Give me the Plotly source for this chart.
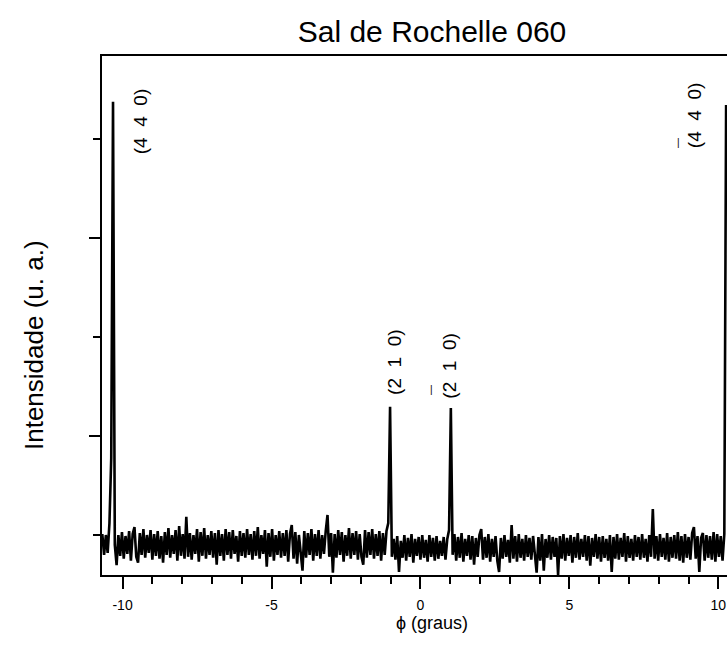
import numpy as np
import plotly.graph_objects as go

# Scan sampling (degrees)
phi_start = -10.68
phi_step = 0.06

# Intensity (arbitrary units)
intensity = [
    505, 400, 500, 410, 560, 889, 2688, 450, 348, 500,
    395, 515, 380, 495, 405, 520, 370, 505, 540, 390,
    360, 510, 400, 530, 385, 500, 410, 525, 375, 505,
    395, 520, 380, 495, 360, 515, 400, 535, 385, 500,
    405, 525, 370, 545, 395, 505, 380, 592, 390, 510,
    375, 500, 405, 530, 365, 515, 395, 535, 380, 500,
    400, 520, 385, 510, 350, 525, 395, 505, 370, 530,
    400, 515, 380, 525, 405, 495, 365, 520, 395, 510,
    385, 530, 400, 505, 375, 520, 395, 540, 380, 500,
    405, 525, 340, 510, 390, 530, 370, 500, 400, 520,
    385, 510, 395, 525, 365, 505, 550, 380, 515, 355,
    500, 395, 320, 520, 385, 510, 400, 530, 370, 505,
    395, 525, 380, 500, 405, 520, 601, 390, 510, 310,
    505, 385, 525, 400, 515, 365, 500, 395, 535, 380,
    510, 400, 520, 375, 505, 390, 350, 525, 385, 515,
    400, 530, 380, 505, 395, 520, 370, 510, 400, 520,
    560, 1148, 390, 480, 375, 495, 313, 470, 385, 500,
    370, 485, 390, 505, 360, 480, 395, 490, 375, 500,
    385, 475, 365, 500, 390, 485, 370, 495, 380, 470,
    395, 490, 375, 480, 525, 1141, 400, 505, 370, 490,
    385, 510, 365, 480, 395, 500, 375, 495, 350, 485,
    390, 500, 530, 375, 490, 385, 505, 365, 480, 390,
    495, 370, 313, 485, 380, 500, 390, 475, 360, 550,
    380, 495, 365, 505, 385, 480, 370, 500, 390, 485,
    375, 495, 385, 310, 490, 370, 505, 320, 480, 385,
    500, 375, 490, 390, 485, 298, 495, 380, 505, 370,
    485, 395, 500, 360, 490, 385, 510, 375, 480, 390,
    500, 370, 495, 345, 485, 390, 505, 380, 490, 365,
    495, 385, 480, 370, 500, 313, 490, 380, 505, 375,
    485, 390, 510, 365, 495, 385, 480, 370, 500, 390,
    490, 375, 505, 385, 480, 365, 500, 390, 631, 380,
    495, 370, 505, 390, 485, 375, 510, 365, 490, 385,
    500, 380, 515, 370, 495, 360, 505, 385, 490, 375,
    510, 540, 380, 495, 313, 485, 510, 370, 500, 385,
    495, 375, 515, 365, 505, 390, 495, 370, 505, 2671,
]

x_tick_vals = [-10, -5, 0, 5, 10]
x_tick_text = ["-10", "-5", "0", "5", "10"]

# Peak labels: text, phi, intensity
peak_labels = ["(4\u20074\u20070)", "(2\u20071\u20070)", "(2\u20071\u20070)", "(4\u20074\u20070)"]
peak_label_phi = [-9.41, -0.85, 0.99, 9.18]
peak_label_int = [2590, 1375, 1355, 2620]
# overbars (for the negative indices) drawn as short vertical strokes
bar_phi = [0.36, 8.65]
bar_int = [1237, 2480]

phi = phi_start + phi_step * np.arange(len(intensity))

FONT = "Liberation Sans, Arial, Helvetica, sans-serif"

# plot-area geometry in pixels (used to place free text)
PL, PR, PT, PB = 102, 727, 56, 575


def px_to_paper(px, py):
    return (px - PL) / (PR - PL), (PB - py) / (PB - PT)


fig = go.Figure()
fig.add_trace(go.Scatter(
    x=phi, y=intensity, mode="lines",
    line=dict(color="black", width=2.6),
    hoverinfo="skip", showlegend=False,
))

annotations = []
for t, xv, yv in zip(peak_labels, peak_label_phi, peak_label_int):
    annotations.append(dict(
        x=xv, y=yv, xref="x", yref="y", text=t, showarrow=False,
        textangle=-90, xanchor="center", yanchor="middle",
        font=dict(family=FONT, size=19, color="black"),
    ))
for xv, yv in zip(bar_phi, bar_int):
    annotations.append(dict(
        x=xv, y=yv, xref="x", yref="y", text="|", showarrow=False,
        textangle=0, xanchor="center", yanchor="middle",
        font=dict(family=FONT, size=10, color="black"),
    ))

ax, ay = px_to_paper(431.5, 623)
annotations.append(dict(
    x=ax, y=ay, xref="paper", yref="paper",
    text="\u03d5 (graus)", showarrow=False, xanchor="center", yanchor="middle",
    font=dict(family=FONT, size=18, color="black"),
))
bx, by = px_to_paper(34, 345)
annotations.append(dict(
    x=bx, y=by, xref="paper", yref="paper",
    text="Intensidade (u. a.)", showarrow=False, textangle=-90,
    xanchor="center", yanchor="middle",
    font=dict(family=FONT, size=26, color="black"),
))

fig.update_layout(
    width=727, height=654,
    margin=dict(l=PL, r=727 - PR, t=PT, b=654 - PB),
    paper_bgcolor="white", plot_bgcolor="white",
    title=dict(
        text="Sal de Rochelle 060", x=432 / 727, xanchor="center",
        y=1 - 31 / 654, yanchor="middle", xref="container", yref="container",
        font=dict(family=FONT, size=30, color="black"),
    ),
    annotations=annotations,
    font=dict(family=FONT, color="black"),
)

fig.update_xaxes(
    range=[-10.69, 10.29],
    tickmode="array", tickvals=x_tick_vals, ticktext=x_tick_text,
    ticks="outside", ticklen=12, tickwidth=1.5, tickcolor="black",
    minor=dict(tickmode="linear", tick0=0, dtick=1, ticks="outside",
               ticklen=7, tickwidth=1.5, tickcolor="black"),
    tickfont=dict(family=FONT, size=14, color="black"),
    ticklabelstandoff=4,
    showline=True, linewidth=2, linecolor="black", mirror=True,
    showgrid=False, zeroline=False,
)
fig.update_yaxes(
    range=[298, 2919],
    tickmode="linear", tick0=0, dtick=1000,
    ticks="outside", ticklen=11, tickwidth=1.5, tickcolor="black",
    minor=dict(tickmode="linear", tick0=0, dtick=500, ticks="outside",
               ticklen=7, tickwidth=1.5, tickcolor="black"),
    showticklabels=False,
    showline=True, linewidth=2, linecolor="black", mirror=False,
    showgrid=False, zeroline=False,
)

fig.write_html("out.html")
